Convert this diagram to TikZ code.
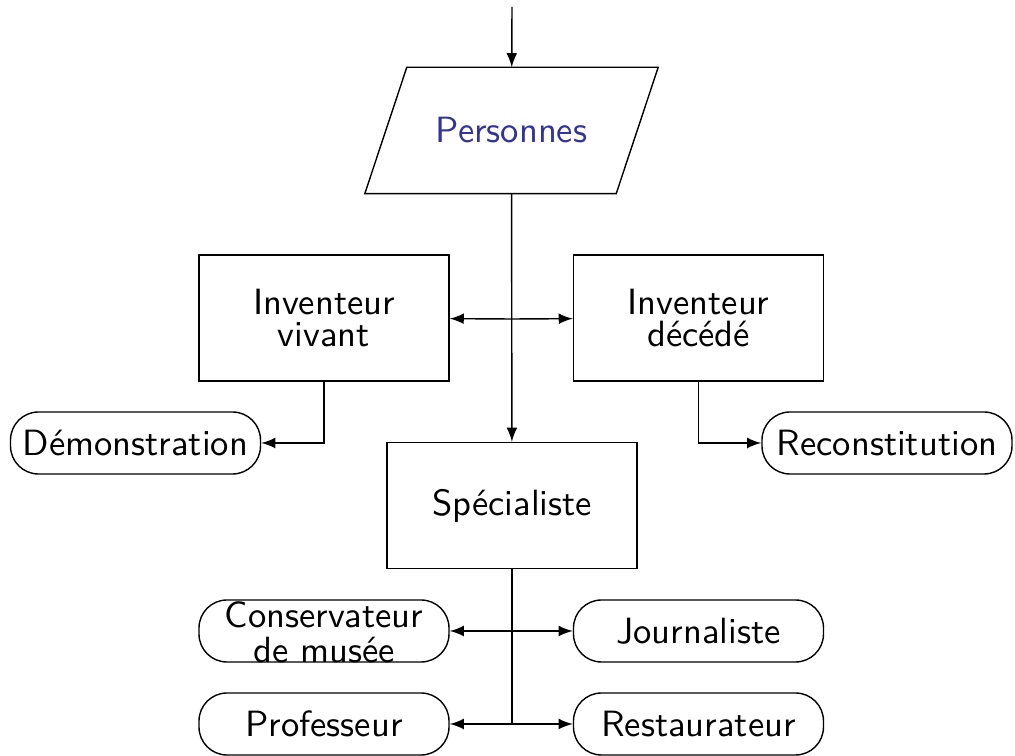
\documentclass[tikz,border=0pt]{standalone}
\usepackage{fontspec}
\definecolor{persblue}{RGB}{51,51,153}
\begin{document}
\begin{tikzpicture}[
                font = \sffamily\fontsize{10.4}{9.3}\selectfont,
                box/.style = {draw, align=center, minimum width = 2.5cm, minimum height = 1.26cm},
                rbox/.style = {draw, rounded corners = 2.8mm, minimum width = 2.5cm, minimum height = 0.62cm},
                io/.style = {minimum width = 2.5cm, minimum height = 1.25cm, text = persblue},
                arr/.style = {draw, -latex},
            ]
            \useasboundingbox (0,0) rectangle (10.15,7.56);

            \coordinate (in) at (5.12,7.49);
            \node (pers) [io] at (5.115,6.255){Personnes};
            % slanted sides of the input box
            \draw ([xshift=0.21cm]pers.north west) -- ([xshift=0.21cm]pers.north east)
                -- ([xshift=-0.21cm]pers.south east) -- ([xshift=-0.21cm]pers.south west) -- cycle;

            \node (viv) [box] at (3.24,4.38){Inventeur\\vivant};
            \node (dec) [box] at (6.985,4.38){Inventeur\\décédé};
            \node (demo) [rbox] at (1.355,3.13){Démonstration};
            \node (recon) [rbox] at (8.87,3.13){Reconstitution};

            \node (spec) [box] at (5.12,2.505){Spécialiste};

            \node (cons) [rbox] at (3.24,1.25){\smash{\raisebox{-4.2pt}{\begin{tabular}{@{}c@{}}Conservateur\\de musée\end{tabular}}}};
            \node (journ) [rbox] at (6.985,1.25){Journaliste};
            \node (prof) [rbox] at (3.24,0.32){Professeur};
            \node (rest) [rbox] at (6.985,0.32){Restaurateur};

            \coordinate (c1) at (5.12,4.37);
            \coordinate (c2) at (5.12,1.25);
            \coordinate (c3) at (5.12,0.32);

            \path[arr] (in) -- (pers);
            \path[arr] (pers) -- (spec);
            \path[arr] (c1) -- (viv);
            \path[arr] (c1) -- (dec);
            \path[arr] (viv) |- (demo);
            \path[arr] (dec) |- (recon);

            \path[draw] (spec) -- (c3);
            \path[arr] (c2) -- (cons);
            \path[arr] (c2) -- (journ);
            \path[arr] (c3) -- (prof);
            \path[arr] (c3) -- (rest);
        \end{tikzpicture}
\end{document}
